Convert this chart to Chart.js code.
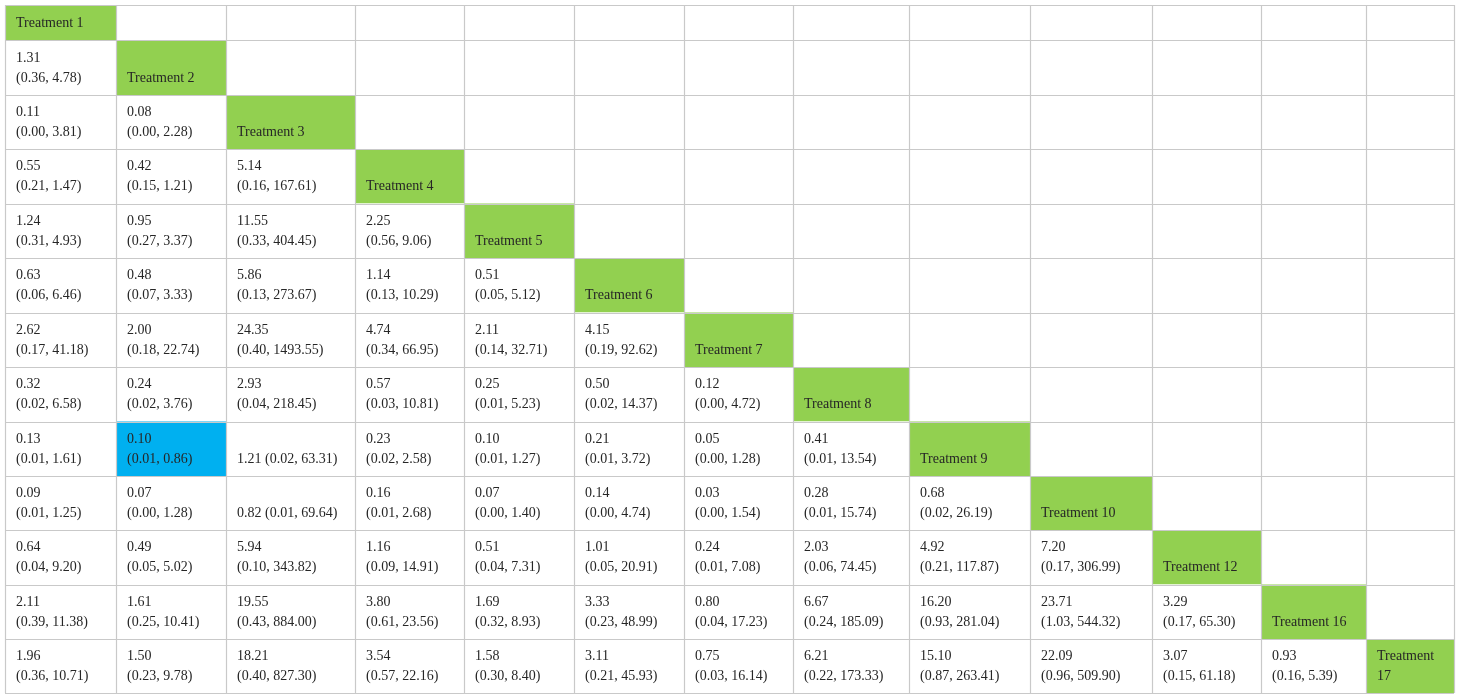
<!DOCTYPE html>
<html>
<head>
<meta charset="utf-8">
<script src="https://cdn.jsdelivr.net/npm/chart.js@4/dist/chart.umd.min.js"></script>
<style>
  html, body { margin: 0; padding: 0; background: #ffffff; }
  #wrap { width: 1460px; height: 699px; position: relative; }
</style>
</head>
<body>
<div id="wrap"><canvas id="c"></canvas></div>
<script>
// ---- data ----
const treatments = ['Treatment 1','Treatment 2','Treatment 3','Treatment 4','Treatment 5','Treatment 6','Treatment 7','Treatment 8','Treatment 9','Treatment 10','Treatment 12','Treatment 16','Treatment 17'];

const estimates = [
  [],
  [1.31],
  [0.11, 0.08],
  [0.55, 0.42, 5.14],
  [1.24, 0.95, 11.55, 2.25],
  [0.63, 0.48, 5.86, 1.14, 0.51],
  [2.62, 2.00, 24.35, 4.74, 2.11, 4.15],
  [0.32, 0.24, 2.93, 0.57, 0.25, 0.50, 0.12],
  [0.13, 0.10, 1.21, 0.23, 0.10, 0.21, 0.05, 0.41],
  [0.09, 0.07, 0.82, 0.16, 0.07, 0.14, 0.03, 0.28, 0.68],
  [0.64, 0.49, 5.94, 1.16, 0.51, 1.01, 0.24, 2.03, 4.92, 7.20],
  [2.11, 1.61, 19.55, 3.80, 1.69, 3.33, 0.80, 6.67, 16.20, 23.71, 3.29],
  [1.96, 1.50, 18.21, 3.54, 1.58, 3.11, 0.75, 6.21, 15.10, 22.09, 3.07, 0.93]
];

const lowerCI = [
  [],
  [0.36],
  [0.00, 0.00],
  [0.21, 0.15, 0.16],
  [0.31, 0.27, 0.33, 0.56],
  [0.06, 0.07, 0.13, 0.13, 0.05],
  [0.17, 0.18, 0.40, 0.34, 0.14, 0.19],
  [0.02, 0.02, 0.04, 0.03, 0.01, 0.02, 0.00],
  [0.01, 0.01, 0.02, 0.02, 0.01, 0.01, 0.00, 0.01],
  [0.01, 0.00, 0.01, 0.01, 0.00, 0.00, 0.00, 0.01, 0.02],
  [0.04, 0.05, 0.10, 0.09, 0.04, 0.05, 0.01, 0.06, 0.21, 0.17],
  [0.39, 0.25, 0.43, 0.61, 0.32, 0.23, 0.04, 0.24, 0.93, 1.03, 0.17],
  [0.36, 0.23, 0.40, 0.57, 0.30, 0.21, 0.03, 0.22, 0.87, 0.96, 0.15, 0.16]
];

const upperCI = [
  [],
  [4.78],
  [3.81, 2.28],
  [1.47, 1.21, 167.61],
  [4.93, 3.37, 404.45, 9.06],
  [6.46, 3.33, 273.67, 10.29, 5.12],
  [41.18, 22.74, 1493.55, 66.95, 32.71, 92.62],
  [6.58, 3.76, 218.45, 10.81, 5.23, 14.37, 4.72],
  [1.61, 0.86, 63.31, 2.58, 1.27, 3.72, 1.28, 13.54],
  [1.25, 1.28, 69.64, 2.68, 1.40, 4.74, 1.54, 15.74, 26.19],
  [9.20, 5.02, 343.82, 14.91, 7.31, 20.91, 7.08, 74.45, 117.87, 306.99],
  [11.38, 10.41, 884.00, 23.56, 8.93, 48.99, 17.23, 185.09, 281.04, 544.32, 65.30],
  [10.71, 9.78, 827.30, 22.16, 8.40, 45.93, 16.14, 173.33, 263.41, 509.90, 61.18, 5.39]
];

// cells highlighted as significant (row, column)
const highlightedCells = [[8, 1]];
// cells whose estimate and interval are written on one line (row, column)
const inlineCells = [[8, 2], [9, 2]];

// ---- layout (scale units) ----
const colWidths = [111, 110, 129, 109, 110, 110, 109, 116, 121, 122, 109, 105, 88];
const rowHeights = [35, 55, 54, 54.5, 54.5, 54.5, 54.5, 54.5, 54.5, 54, 54.5, 54.5, 54];

const colEdges = [0];
colWidths.forEach(w => colEdges.push(colEdges[colEdges.length - 1] + w));
const rowEdges = [0];
rowHeights.forEach(h => rowEdges.push(rowEdges[rowEdges.length - 1] + h));

const GREEN = '#92D050';
const BLUE = '#00B0F0';
const LINE = '#c9c9c9';
const TEXT = '#262626';
const FONT = '14px "Liberation Serif", "Times New Roman", serif';

function isIn(list, r, c) { return list.some(p => p[0] === r && p[1] === c); }

const tablePlugin = {
  id: 'leagueTable',
  afterDatasetsDraw(chart) {
    const ctx = chart.ctx;
    const xs = chart.scales.x, ys = chart.scales.y;
    const n = treatments.length;
    const X = v => xs.getPixelForValue(v);
    const Y = v => ys.getPixelForValue(v);
    ctx.save();
    // fills
    for (let r = 0; r < n; r++) {
      for (let c = 0; c < n; c++) {
        const x0 = X(colEdges[c]), x1 = X(colEdges[c + 1]);
        const y0 = Y(rowEdges[r]), y1 = Y(rowEdges[r + 1]);
        let fill = '#ffffff';
        if (r === c) fill = GREEN;
        else if (isIn(highlightedCells, r, c)) fill = BLUE;
        ctx.fillStyle = fill;
        ctx.fillRect(x0, y0, x1 - x0, y1 - y0);
      }
    }
    // grid lines
    ctx.strokeStyle = LINE;
    ctx.lineWidth = 1.2;
    const top = Y(rowEdges[0]), bottom = Y(rowEdges[n]);
    const left = X(colEdges[0]), right = X(colEdges[n]);
    colEdges.forEach(e => {
      const px = Math.round(X(e)) + 0.5;
      ctx.beginPath(); ctx.moveTo(px, top); ctx.lineTo(px, bottom); ctx.stroke();
    });
    rowEdges.forEach(e => {
      const py = Math.round(Y(e)) + 0.5;
      ctx.beginPath(); ctx.moveTo(left, py); ctx.lineTo(right, py); ctx.stroke();
    });
    // text
    ctx.fillStyle = TEXT;
    ctx.font = FONT;
    ctx.textAlign = 'left';
    ctx.textBaseline = 'middle';
    const padX = 11;
    for (let r = 0; r < n; r++) {
      for (let c = 0; c <= r; c++) {
        const x0 = X(colEdges[c]), x1 = X(colEdges[c + 1]);
        const y1 = Y(rowEdges[r + 1]);
        const line2 = y1 - 17, line1 = y1 - 37;
        if (r === c) {
          const label = treatments[r];
          if (ctx.measureText(label).width > (x1 - x0) - 2 * padX) {
            const parts = label.split(' ');
            const last = parts.pop();
            ctx.fillText(parts.join(' '), x0 + padX, line1);
            ctx.fillText(last, x0 + padX, line2);
          } else {
            ctx.fillText(label, x0 + padX, line2);
          }
        } else {
          const est = estimates[r][c].toFixed(2);
          const ci = '(' + lowerCI[r][c].toFixed(2) + ', ' + upperCI[r][c].toFixed(2) + ')';
          if (isIn(inlineCells, r, c)) {
            ctx.fillText(est + ' ' + ci, x0 + padX, line2);
          } else {
            ctx.fillText(est, x0 + padX, line1);
            ctx.fillText(ci, x0 + padX, line2);
          }
        }
      }
    }
    ctx.restore();
  }
};

new Chart(document.getElementById('c'), {
  type: 'scatter',
  data: { datasets: [{ data: [], pointRadius: 0 }] },
  options: {
    responsive: true,
    maintainAspectRatio: false,
    animation: false,
    layout: { padding: { left: 5, top: 5, right: 6, bottom: 6 } },
    plugins: { legend: { display: false }, tooltip: { enabled: false } },
    scales: {
      x: { type: 'linear', min: 0, max: colEdges[colEdges.length - 1], display: false },
      y: { type: 'linear', min: 0, max: rowEdges[rowEdges.length - 1], reverse: true, display: false }
    }
  },
  plugins: [tablePlugin]
});
</script>
</body>
</html>
